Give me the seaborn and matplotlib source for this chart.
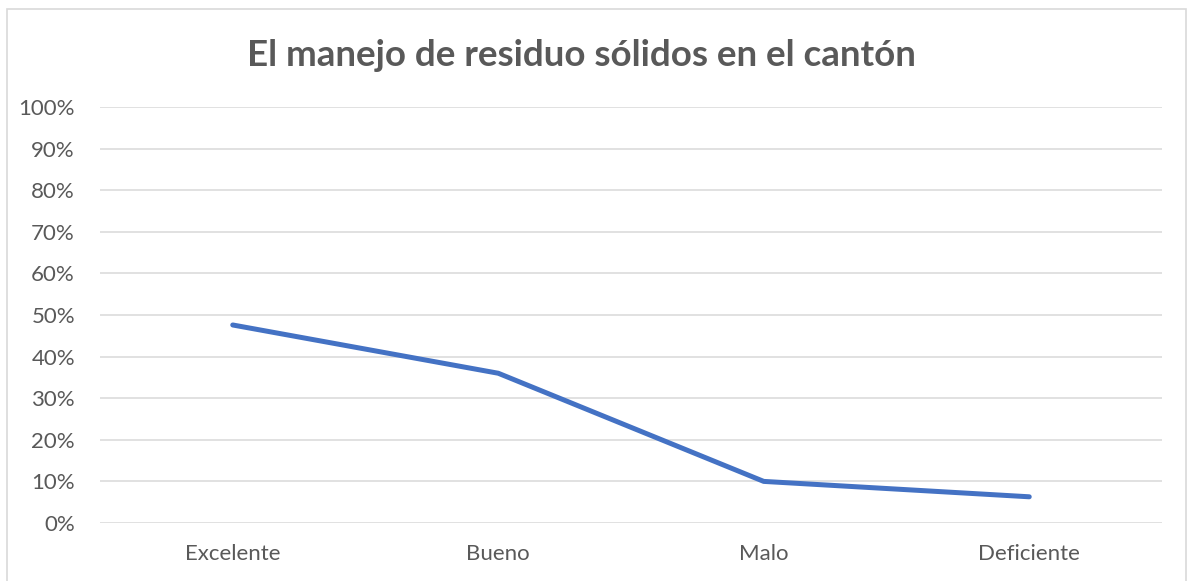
"""Line chart: manejo de residuos sólidos en el cantón."""

import matplotlib.pyplot as plt
import numpy as np
import pandas as pd
import seaborn as sns
from matplotlib.patches import Rectangle
from matplotlib.ticker import MultipleLocator, PercentFormatter

categories = ["Excelente", "Bueno", "Malo", "Deficiente"]
values = [0.476, 0.360, 0.100, 0.063]
title = "El manejo de residuo sólidos en el cantón"

sns.set_theme(style="white")
plt.rcParams["font.family"] = ["Lato", "DejaVu Sans"]

df = pd.DataFrame({"pos": np.arange(len(categories)), "value": values})

fig = plt.figure(figsize=(11.88, 5.81), dpi=100)
ax = fig.add_axes([100 / 1188, 1 - 523 / 581, 1062 / 1188, 416 / 581])

sns.lineplot(data=df, x="pos", y="value", ax=ax, color="#4472C4", linewidth=3.6,
             solid_capstyle="round", solid_joinstyle="round")

ax.set_xlim(-0.5, len(categories) - 0.5)
ax.set_ylim(0, 1)
ax.yaxis.set_major_locator(MultipleLocator(0.1))
ax.yaxis.set_major_formatter(PercentFormatter(1.0, decimals=0))
ax.set_xticks(df["pos"])
ax.set_xticklabels(categories)
ax.grid(axis="y", color="#D9D9D9", linewidth=1.1)
ax.set_axisbelow(True)
for s in ax.spines.values():
    s.set_visible(False)
ax.tick_params(axis="both", length=0, labelsize=16, colors="#595959")
ax.tick_params(axis="x", pad=15)
ax.tick_params(axis="y", pad=18)
ax.set_xlabel("")
ax.set_ylabel("")

fig.text(581 / 1188, 1 - 56 / 581, title, ha="center", va="center",
         fontsize=26.5, fontweight="bold", color="#595959")

# chart frame
fig.add_artist(Rectangle((7 / 1188, -0.05), 1179 / 1188, 1.05 - 9 / 581,
                         transform=fig.transFigure, fill=False,
                         edgecolor="#D9D9D9", linewidth=1.2))

fig.savefig("out.png", dpi=100)
